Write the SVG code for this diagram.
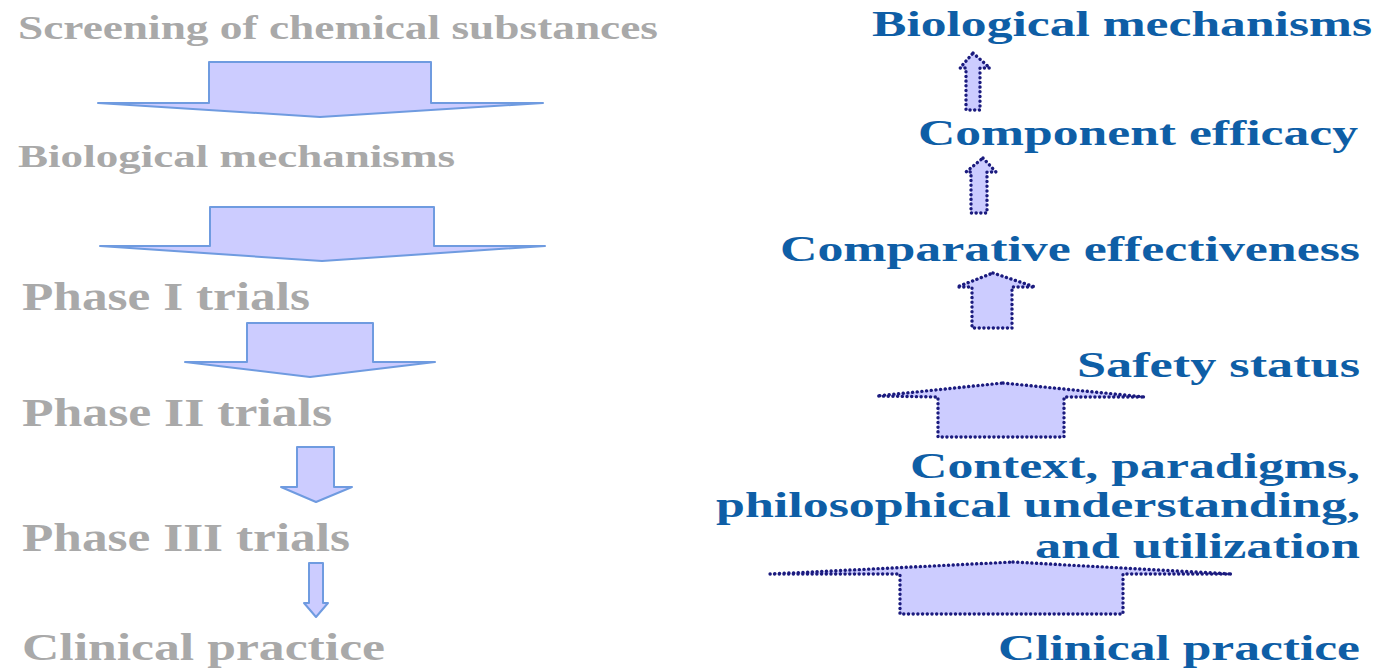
<svg xmlns="http://www.w3.org/2000/svg" width="1379" height="670" viewBox="0 0 1379 670">
<style>
.lt{font-family:"Liberation Serif","Times New Roman",serif;font-weight:bold;fill:#a9a9a9;}
.rt{font-family:"Liberation Serif","Times New Roman",serif;font-weight:bold;fill:#0e5ea6;font-size:36px;}
.la{fill:#ccccff;stroke:#6f9be0;stroke-width:2;stroke-linejoin:round;}
.ra{fill:#ccccff;stroke:#1b1b7e;stroke-width:3.4;stroke-dasharray:0.1 4.6;stroke-linecap:round;stroke-linejoin:round;}
</style>
<rect width="1379" height="670" fill="#ffffff"/>
<g id="left-nodes">
<g id="l-screening"><text class="lt" x="18" y="39" font-size="33" textLength="640" lengthAdjust="spacingAndGlyphs">Screening of chemical substances</text></g>
<g id="l-bio"><text class="lt" x="18" y="167" font-size="31" textLength="437" lengthAdjust="spacingAndGlyphs">Biological mechanisms</text></g>
<g id="l-phase1"><text class="lt" x="22" y="310" font-size="40" textLength="288" lengthAdjust="spacingAndGlyphs">Phase I trials</text></g>
<g id="l-phase2"><text class="lt" x="22" y="426" font-size="40" textLength="310" lengthAdjust="spacingAndGlyphs">Phase II trials</text></g>
<g id="l-phase3"><text class="lt" x="22" y="551" font-size="40" textLength="328" lengthAdjust="spacingAndGlyphs">Phase III trials</text></g>
<g id="l-clinical"><text class="lt" x="22" y="660" font-size="38" textLength="363" lengthAdjust="spacingAndGlyphs">Clinical practice</text></g>
</g>
<g id="right-nodes">
<g id="r-bio"><text class="rt" x="872" y="36" textLength="500" lengthAdjust="spacingAndGlyphs">Biological mechanisms</text></g>
<g id="r-component"><text class="rt" x="918" y="145" textLength="440" lengthAdjust="spacingAndGlyphs">Component efficacy</text></g>
<g id="r-comparative"><text class="rt" x="780" y="261" textLength="580" lengthAdjust="spacingAndGlyphs">Comparative effectiveness</text></g>
<g id="r-safety"><text class="rt" x="1077" y="377" textLength="283" lengthAdjust="spacingAndGlyphs">Safety status</text></g>
<g id="r-context">
<text class="rt" x="910" y="478" textLength="450" lengthAdjust="spacingAndGlyphs">Context, paradigms,</text>
<text class="rt" x="716" y="517" textLength="644" lengthAdjust="spacingAndGlyphs">philosophical understanding,</text>
<text class="rt" x="1035" y="558" textLength="325" lengthAdjust="spacingAndGlyphs">and utilization</text>
</g>
<g id="r-clinical"><text class="rt" x="998" y="660" textLength="362" lengthAdjust="spacingAndGlyphs">Clinical practice</text></g>
</g>
<g id="connectors">
<polygon class="la" points="209,62 431,62 431,103 543,103 320,117 98,103 209,103"/>
<polygon class="la" points="210,207 434,207 434,246 545,246 322,261 100,246 210,246"/>
<polygon class="la" points="247,323 373,323 373,362 435,362 310,377 185,362 247,362"/>
<polygon class="la" points="297,447 334,447 334,487 352,487 316,502 281,487 297,487"/>
<polygon class="la" points="309,563 323,563 323,603 328,603 316,617 304,603 309,603"/>
<polygon class="ra" points="973,53 990,68 980,68 980,110 966,110 966,68 960,68"/>
<polygon class="ra" points="983,158 996,172 987,172 987,213 971,213 971,172 966,172"/>
<polygon class="ra" points="993,273 1035,287 1012,287 1012,328 972,328 972,287 957,287"/>
<polygon class="ra" points="1003,383 1145,397 1064,397 1064,437 938,437 938,397 877,396"/>
<polygon class="ra" points="1013,562 1232,574 1123,574 1123,614 900,614 900,574 770,574"/>
</g>
</svg>
